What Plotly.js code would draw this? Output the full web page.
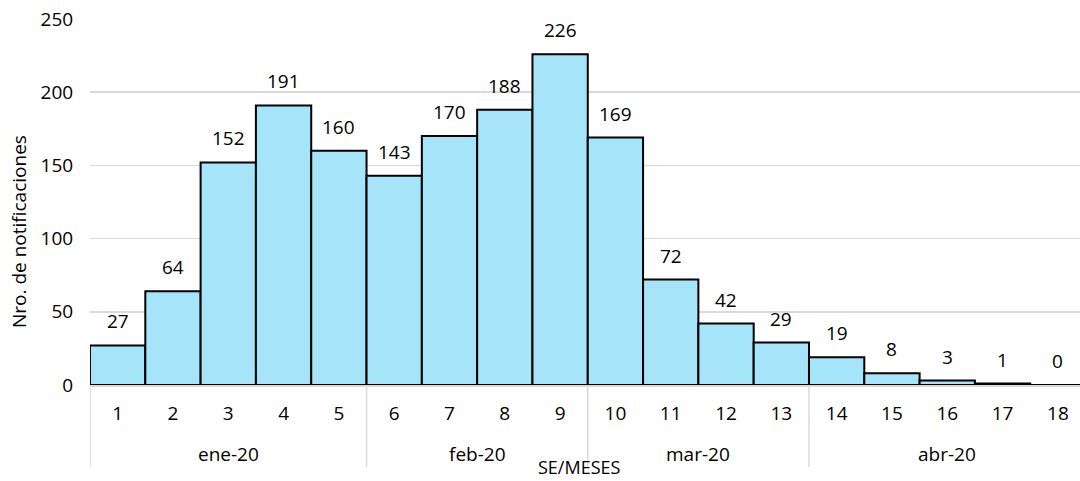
<!DOCTYPE html>
<html><head><meta charset="utf-8">
<script src="https://cdn.plot.ly/plotly-3.0.1.min.js"></script>
<style>html,body{margin:0;padding:0;background:#fff;}#chart{width:1080px;height:481px;}</style>
</head><body><div id="chart"></div>
<script>
var weeks = ["1","2","3","4","5","6","7","8","9","10","11","12","13","14","15","16","17","18"];
var values = [27,64,152,191,160,143,170,188,226,169,72,42,29,19,8,3,1,0];
var months = ["ene-20","feb-20","mar-20","abr-20"];
var monthWeekCounts = [5,4,4,5];

var xs = weeks.map(function(w,i){return i;});
var FONT = "Open Sans, Noto Sans, sans-serif";
var FS = 19;

var annotations = [];
values.forEach(function(v,i){
  annotations.push({x:i, y:v, xref:'x', yref:'y', text:String(v), showarrow:false,
    yanchor:'bottom', yshift:9, font:{family:FONT,size:FS,color:'#000'}});
});
var shapes = [];
var start = 0;
shapes.push({type:'line', xref:'x', yref:'paper', x0:-0.5, x1:-0.5, y0:0, y1:-0.224, line:{color:'#d9d9d9', width:1.5}});
months.forEach(function(m,k){
  var n = monthWeekCounts[k];
  var center = start + (n-1)/2;
  annotations.push({x:center, y:-0.189, xref:'x', yref:'paper', text:m, showarrow:false,
    yanchor:'middle', font:{family:FONT,size:FS,color:'#000'}});
  start += n;
  if (k < months.length-1) {
    shapes.push({type:'line', xref:'x', yref:'paper', x0:start-0.5, x1:start-0.5, y0:0, y1:-0.224, line:{color:'#d9d9d9', width:1.5}});
  }
});
annotations.push({x:0.494, y:-0.2623, xref:'paper', yref:'paper', text:'SE/MESES', showarrow:false,
  yanchor:'bottom', font:{family:FONT,size:18,color:'#000'}});
annotations.push({x:-0.071, y:0.42, xref:'paper', yref:'paper', xanchor:'center', text:'Nro. de notificaciones', showarrow:false,
  textangle:-90, yanchor:'middle', font:{family:FONT,size:FS,color:'#000'}});

var trace = {type:'bar', x:xs, y:values, width:1,
  marker:{color:'#A6E4FA', line:{color:'#000', width:2}}, hoverinfo:'none'};

var layout = {
  width:1080, height:481,
  margin:{l:90, r:0, t:19, b:96},
  paper_bgcolor:'#fff', plot_bgcolor:'#fff',
  showlegend:false, bargap:0,
  xaxis:{range:[-0.5,17.4], tickmode:'array', tickvals:xs, ticktext:weeks,
    showgrid:false, zeroline:false, showline:true, linecolor:'#d9d9d9', linewidth:1.5,
    ticks:'outside', ticklen:11, tickcolor:'rgba(0,0,0,0)',
    tickfont:{family:FONT,size:FS,color:'#000'}},
  yaxis:{range:[0,250], tickvals:[0,50,100,150,200,250], showgrid:true, gridcolor:'#d9d9d9', gridwidth:1.5,
    zeroline:false, showline:false, ticks:'outside', ticklen:12, tickcolor:'rgba(0,0,0,0)',
    tickfont:{family:FONT,size:FS,color:'#000'}},
  annotations:annotations, shapes:shapes
};
Plotly.newPlot('chart',[trace],layout,{displayModeBar:false,staticPlot:true});
</script></body></html>
